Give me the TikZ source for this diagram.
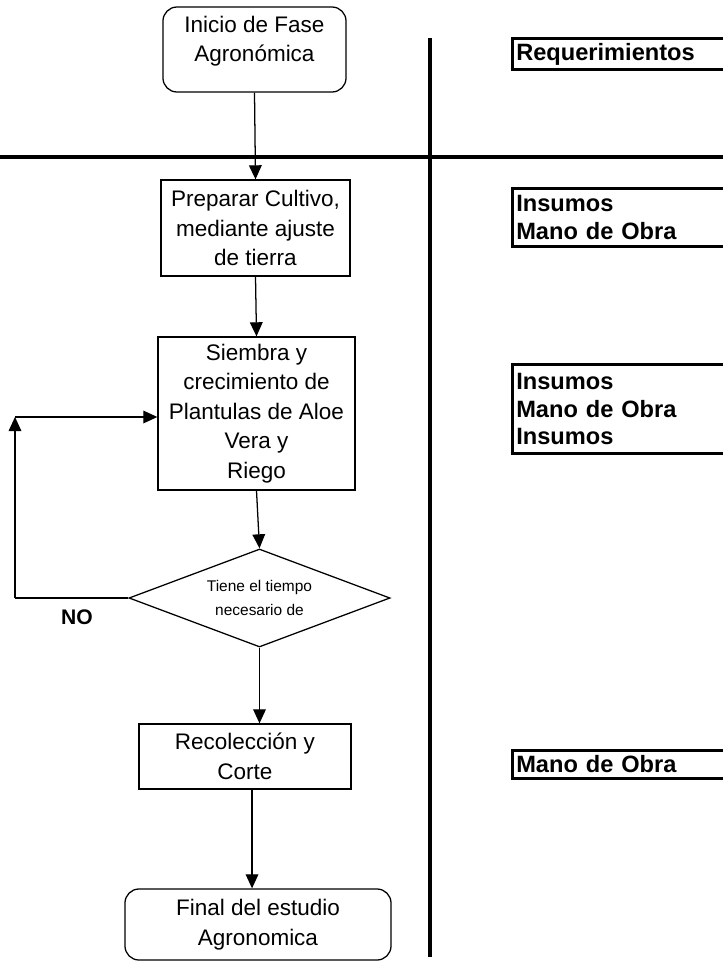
\documentclass[tikz,border=0pt]{standalone}
\usepackage{fontspec}
\setmainfont{Liberation Sans}
\usetikzlibrary{shapes.geometric,arrows.meta}

\tikzset{
 caja/.style={draw,line width=0.9pt,align=center,inner sep=2pt,font=\fontsize{16}{21}\selectfont},
 redondo/.style={caja,rounded corners=10pt},
 requisito/.style={draw,line width=2.2pt,anchor=west,align=left,text width=7cm,inner xsep=3pt,inner ysep=1.5pt,font=\bfseries\fontsize{16.8}{19.5}\selectfont},
 flecha/.style={line width=0.9pt,->,>={Triangle[length=10pt,width=9pt]}}
}

\begin{document}
\begin{tikzpicture}[x=0.025cm,y=-0.025cm]
 \useasboundingbox (0,0) rectangle (723,967); %枠
 \clip (0,0) rectangle (723,967);
 \coordinate (vA) at (430,38); %縦線 上
 \coordinate (vB) at (430,957); %縦線 下
 \coordinate (hA) at (0,157); %横線 左
 \coordinate (hB) at (723,157); %横線 右
 \draw[line width=3.2pt] (vA)--(vB); %縦線
 \draw[line width=3.2pt] (hA)--(hB); %横線

 \node[redondo,minimum width=4.575cm,minimum height=2.125cm] (inicio) at (254.5,49.5) {Inicio de Fase\\Agronómica\\[-12pt]\strut};
 \node[caja,minimum width=4.725cm,minimum height=2.4cm] (preparar) at (255.5,228) {Preparar Cultivo,\\mediante ajuste\\de tierra};
 \node[caja,minimum width=4.925cm,minimum height=3.825cm] (siembra) at (256.5,413.5) {Siembra y\\crecimiento de\\Plantulas de Aloe\\Vera y\\Riego};
 \node[diamond,draw,line width=0.9pt,aspect=2.66,inner sep=0pt,minimum width=6.525cm,minimum height=2.45cm,align=center,font=\fontsize{11}{17}\selectfont] (tiempo) at (259.5,598) {Tiene el tiempo\\necesario de};
 \node[caja,minimum width=5.3cm,minimum height=1.625cm] (recoleccion) at (245,756.5) {Recolección y\\Corte};
 \node[redondo,minimum width=6.65cm,minimum height=1.775cm] (final) at (258,924.5) {Final del estudio\\Agronomica};
 \node[font=\bfseries\fontsize{15}{18}\selectfont] (no) at (77,617) {NO};

 \draw[flecha] (inicio.south)--(preparar.north);
 \draw[flecha] (preparar.south)--(siembra.north);
 \draw[flecha] (siembra.south)--(tiempo.north);
 \draw[flecha] (tiempo.south)--(tiempo.south |- recoleccion.north);
 \draw[flecha] ([xshift=5pt]recoleccion.south)--([xshift=5pt]recoleccion.south |- final.north);

 \coordinate (lazoB) at (15,598); %ループ 下
 \coordinate (lazoT) at (15,417); %ループ 上
 \draw[line width=0.9pt] (tiempo.west)--(lazoB);
 \draw[flecha] (lazoB)--(lazoT);
 \draw[flecha] (lazoT)--(lazoT -| siembra.west);

 \node[requisito,minimum height=0.775cm] (req) at (510.5,54) {Requerimientos};
 \node[requisito,minimum height=1.45cm] (ins1) at (510.5,217.5) {Insumos\\Mano de Obra};
 \node[requisito,minimum height=2.225cm] (ins2) at (510.5,409) {Insumos\\Mano de Obra\\Insumos};
 \node[requisito,minimum height=0.7cm] (mano) at (510.5,764.5) {Mano de Obra};
\end{tikzpicture}
\end{document}
